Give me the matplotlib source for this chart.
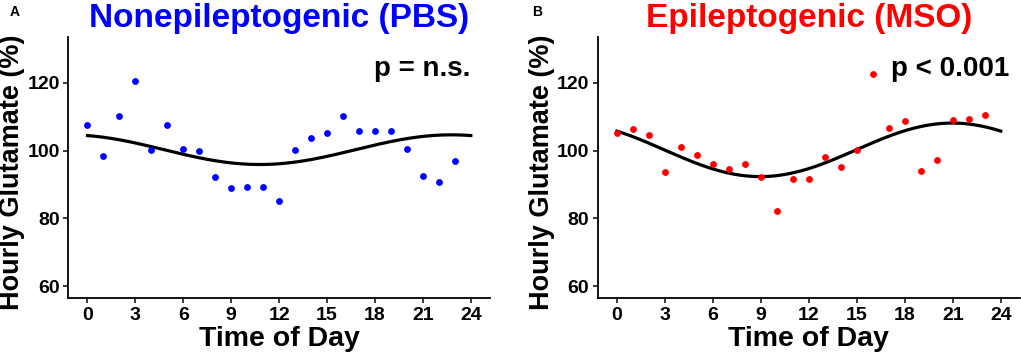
import numpy as np
import matplotlib
matplotlib.use("Agg")
import matplotlib.pyplot as plt

plt.rcParams['font.family'] = ['Liberation Sans', 'DejaVu Sans']
plt.rcParams['font.weight'] = 'bold'

hours = list(range(24))

# hourly glutamate (%)
pbs_glu = [107.5, 98.5, 110.1, 120.4, 100.2, 107.5, 100.5, 99.8, 92.2, 88.9, 89.4, 89.2,
           85.1, 100.1, 103.6, 105.1, 110.2, 105.6, 105.6, 105.7, 100.4, 92.6, 90.8, 97.0]
mso_glu = [105.3, 106.2, 104.5, 93.7, 100.9, 98.7, 96.1, 94.5, 96.1, 92.2, 82.1, 91.5,
           91.7, 98.2, 95.2, 100.2, 122.4, 106.7, 108.7, 93.9, 97.1, 109.0, 109.3, 110.6]

titles = ["Nonepileptogenic (PBS)", "Epileptogenic (MSO)"]
colors = ["#0000FF", "#FF0000"]
pvals = ["p = n.s.", "p < 0.001"]
letters = ["A", "B"]
xticks = [0, 3, 6, 9, 12, 15, 18, 21, 24]
yticks = [60, 80, 100, 120]


def cosinor(x, y, xs):
    # least squares fit of a 24 h cosine
    x = np.asarray(x, float)
    X = np.column_stack([np.ones_like(x), np.cos(2*np.pi*x/24), np.sin(2*np.pi*x/24)])
    b = np.linalg.lstsq(X, np.asarray(y, float), rcond=None)[0]
    return b[0] + b[1]*np.cos(2*np.pi*xs/24) + b[2]*np.sin(2*np.pi*xs/24)


W, H = 1021, 354
fig = plt.figure(figsize=(W/100, H/100), dpi=100)

boxes = [(68.3, 490.0), (597.7, 1020.0)]
top_px, bot_px = 36.7, 298.3
letter_pos = [(14.5, 12), (537, 12.5)]
ylab_x = [25, 555]
ptext_x = [24.0, 24.5]

for i, data in enumerate([pbs_glu, mso_glu]):
    l, r = boxes[i]
    ax = fig.add_axes([l/W, 1 - bot_px/H, (r - l)/W, (bot_px - top_px)/H])
    xs = np.linspace(0, 24, 300)
    ax.plot(xs, cosinor(hours, data, xs), color="black", lw=2.3, zorder=2)
    ax.scatter(hours, data, s=24, color=colors[i], linewidths=0, zorder=3)

    ax.set_xlim(-1.2, 25.2)
    ax.set_ylim(56.5, 133.5)
    ax.set_xticks(xticks)
    ax.set_yticks(yticks)
    for s in ["top", "right"]:
        ax.spines[s].set_visible(False)
    for s in ["left", "bottom"]:
        ax.spines[s].set_linewidth(1.3)
    ax.tick_params(length=3.5, width=1.1, labelsize=14, pad=2.5)
    for lab in ax.get_xticklabels() + ax.get_yticklabels():
        lab.set_fontweight("bold")

    ax.set_xlabel("Time of Day", fontsize=20.5, fontweight="bold")
    ax.set_ylabel("Hourly Glutamate (%)", fontsize=19.5, fontweight="bold")
    ax.xaxis.set_label_coords(0.5, -0.105)
    ax.yaxis.set_label_coords((ylab_x[i] - l)/(r - l), 0.48)

    ax.set_title(titles[i], color=colors[i], fontsize=24, fontweight="bold", pad=7)
    ax.text(ptext_x[i], 121.8, pvals[i], ha="right", va="baseline",
            fontsize=20, fontweight="bold")
    lx, ly = letter_pos[i]
    fig.text(lx/W, 1 - ly/H, letters[i], ha="center", va="center",
             fontsize=10, fontweight="bold")

fig.savefig("out.png", dpi=100)
